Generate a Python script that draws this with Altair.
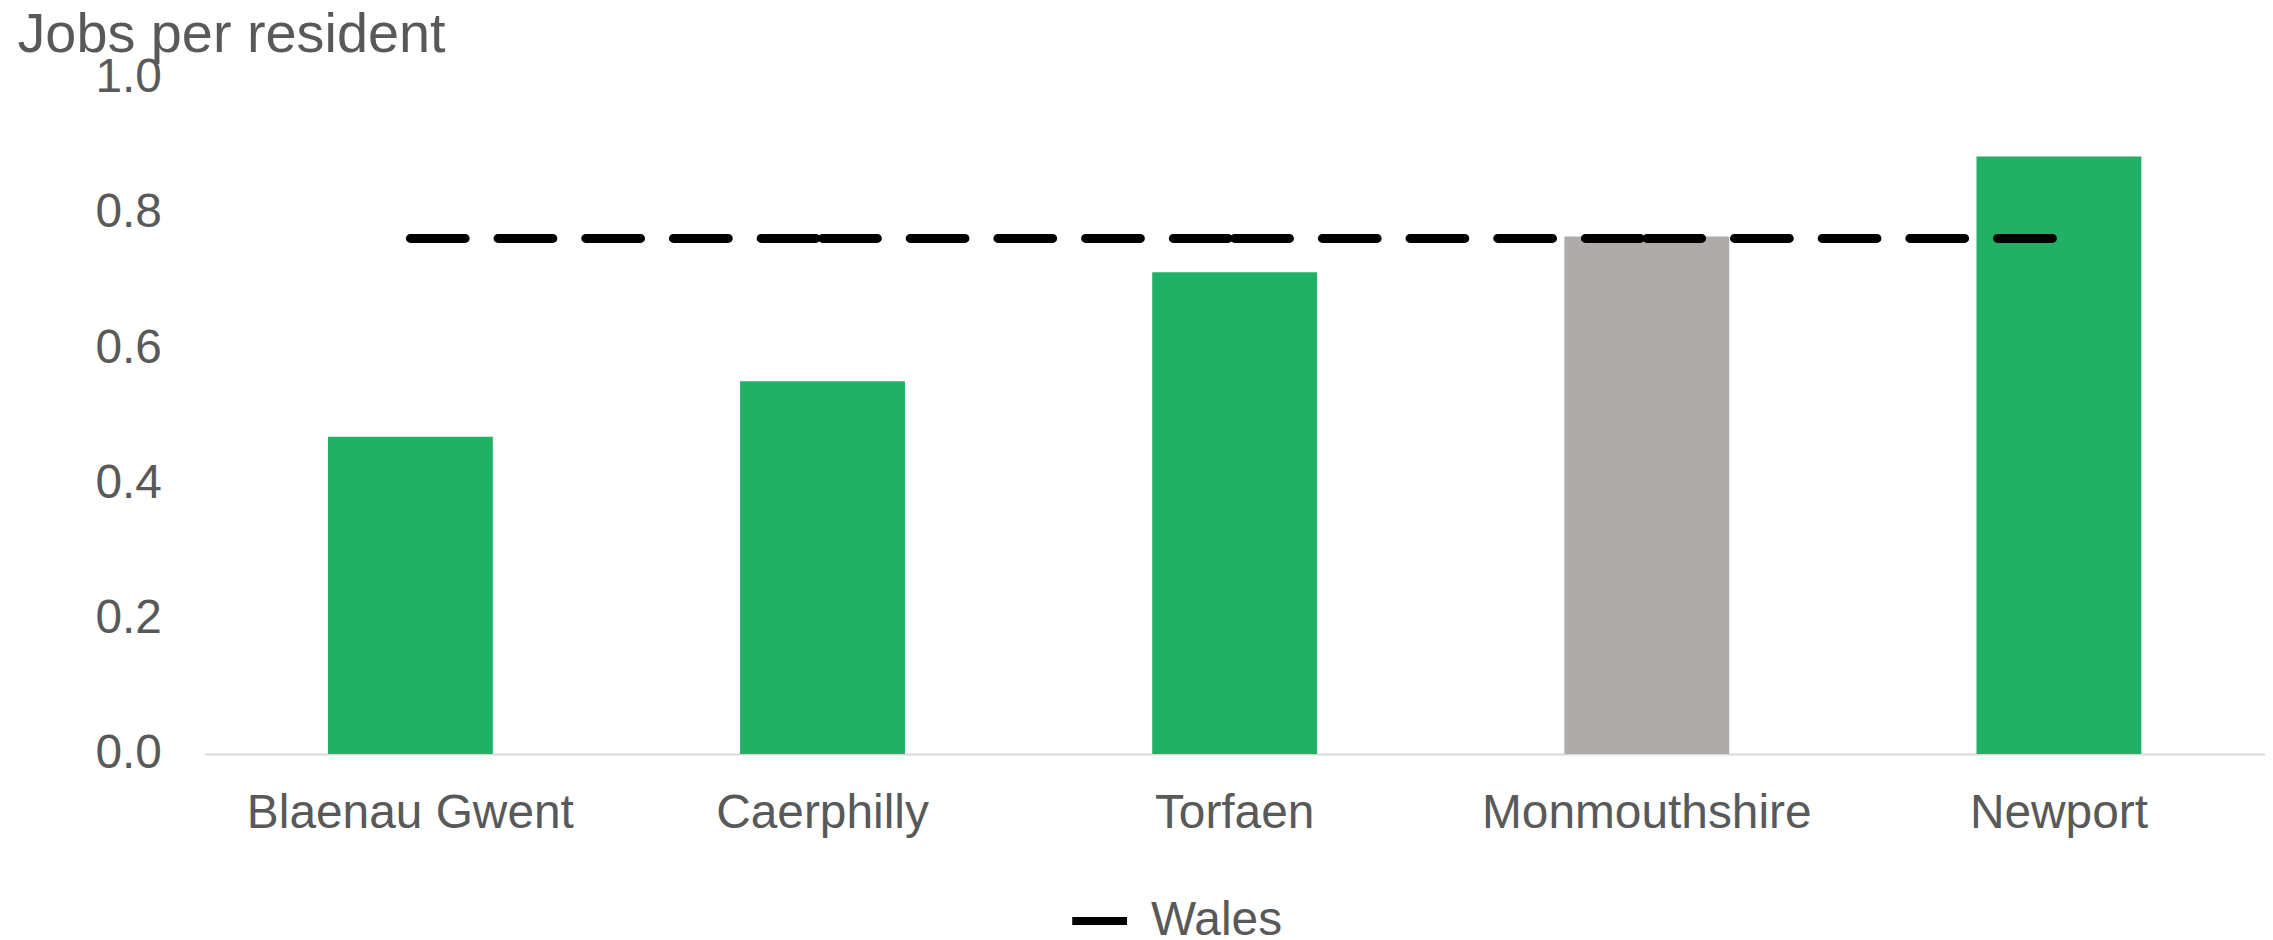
import altair as alt
import pandas as pd

# ---- data ----
areas = ["Blaenau Gwent", "Caerphilly", "Torfaen", "Monmouthshire", "Newport"]
jobs_per_resident = [0.469, 0.551, 0.712, 0.765, 0.883]
wales_value = 0.762
highlight_area = "Monmouthshire"
series_name = "Wales"
y_ticks = [0.0, 0.2, 0.4, 0.6, 0.8, 1.0]

FONT = "Liberation Sans"
TXT = "#595959"
GREEN = "#21B066"
GREY = "#AEABA9"

bars_df = pd.DataFrame({"area": areas, "value": jobs_per_resident})

# Wales benchmark drawn as one segment between neighbouring categories (dash restarts per segment)
rows = []
for i in range(len(areas) - 1):
    rows.append({"seg": i, "area": areas[i], "value": wales_value, "series": series_name})
    rows.append({"seg": i, "area": areas[i + 1], "value": wales_value, "series": series_name})
line_df = pd.DataFrame(rows)

x_enc = alt.X(
    "area:N",
    sort=areas,
    scale=alt.Scale(paddingInner=0.6, paddingOuter=0.3),
    axis=alt.Axis(
        title=None, labelAngle=0, labelFontSize=48, labelColor=TXT, labelFont=FONT,
        labelPadding=36, labelLimit=0, ticks=False, domainColor="#D9D9D9", domainWidth=2,
        grid=False,
    ),
)
y_enc = alt.Y(
    "value:Q",
    scale=alt.Scale(domain=[0, 1], nice=False),
    axis=alt.Axis(
        values=y_ticks, format=".1f", title="Jobs per resident", titleAngle=0,
        titleX=-188, titleY=-26, titleAlign="left", titleBaseline="alphabetic",
        titleFontSize=56, titleFontWeight="normal", titleColor=TXT, titleFont=FONT,
        titleLimit=0,
        labelFontSize=48, labelColor=TXT, labelFont=FONT, labelPadding=43,
        ticks=False, domain=False, grid=False,
    ),
)

bars = alt.Chart(bars_df).mark_bar().encode(
    x=x_enc,
    y=y_enc,
    color=alt.condition(alt.datum.area == highlight_area, alt.value(GREY), alt.value(GREEN)),
)

line = alt.Chart(line_df).mark_line(strokeWidth=9, strokeDash=[55, 33], strokeCap="round").encode(
    x=x_enc,
    y=alt.Y("value:Q"),
    detail="seg:N",
    color=alt.Color(
        "series:N",
        scale=alt.Scale(domain=[series_name], range=["#000000"]),
        legend=alt.Legend(
            title=None, orient="none", legendX=867, legendY=815,
            symbolType="stroke", symbolSize=3025, symbolStrokeWidth=8, symbolDash=[1, 0],
            labelFontSize=48, labelColor=TXT, labelFont=FONT, labelOffset=20, padding=0,
        ),
    ),
)

chart = (
    alt.layer(bars, line)
    .properties(
        width=2068, height=679,
        padding={"left": 197, "top": 68, "right": 0, "bottom": 190},
        autosize=alt.AutoSizeParams(type="none"),
    )
    .configure(font=FONT)
    .configure_view(stroke=None)
)

chart.save("out.html", embed_options={"renderer": "svg", "actions": False})
